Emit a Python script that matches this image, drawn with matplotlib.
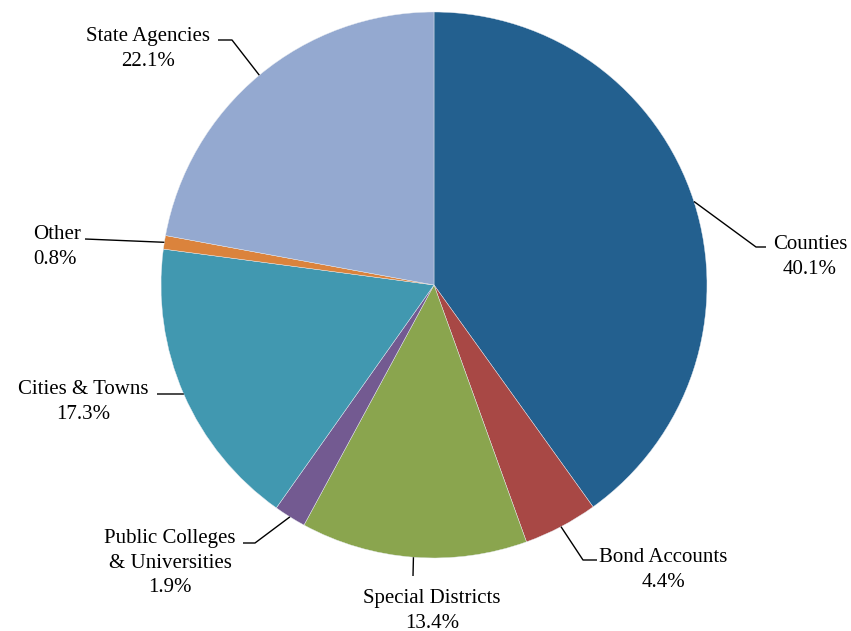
import numpy as np
import matplotlib
matplotlib.use("Agg")
import matplotlib.pyplot as plt

# Share of total by entity type
categories = ["Counties", "Bond Accounts", "Special Districts",
              "Public Colleges\n& Universities", "Cities & Towns",
              "Other", "State Agencies"]
shares = [40.1, 4.4, 13.4, 1.9, 17.3, 0.8, 22.1]
colors = ["#23608F", "#A84845", "#8AA54E", "#735A91",
          "#4198B0", "#DB833C", "#94A9D0"]

W, H = 851, 631
plt.rcParams["font.family"] = ["Liberation Serif", "DejaVu Serif"]

fig = plt.figure(figsize=(W / 100, H / 100), dpi=100)
ax = fig.add_axes([0, 0, 1, 1])

cx, cy, r = 434, H - 285, 273
wedges, _ = ax.pie(shares, colors=colors, startangle=90, counterclock=False,
                   radius=r, center=(cx, cy), frame=True,
                   wedgeprops=dict(edgecolor="#e8ecf2", linewidth=0.3))
ax.set_xlim(0, W)
ax.set_ylim(0, H)
ax.set_aspect("equal")
ax.axis("off")

def fy(py):
    return H - py

# label layout: (elbow point, end point, text position, alignment) in pixel coords
layout = [
    ((756, 247), (766, 247), (810, 257), "center"),
    ((583, 560), (597, 560), (663, 570), "center"),
    ((413, 576), (413, 576), (432, 611), "center"),
    ((255, 543), (243, 543), (170, 563), "center"),
    ((183, 394), (157, 394), (83, 402), "center"),
    ((85, 239), (85, 239), (33, 247), "left"),
    ((232, 40), (218, 40), (148, 49), "center"),
]

for w, name, val, (elbow, end, tpos, ha) in zip(wedges, categories, shares, layout):
    ang = np.deg2rad((w.theta1 + w.theta2) / 2)
    sx, sy = cx + r * np.cos(ang), cy + r * np.sin(ang)
    ax.plot([sx, elbow[0], end[0]], [sy, fy(elbow[1]), fy(end[1])],
            color="black", lw=1.0, solid_capstyle="butt")
    ax.text(tpos[0], fy(tpos[1]), f"{name}\n{val:.1f}%", ha=ha, va="center",
            multialignment=ha, fontsize=15, linespacing=1.38, color="black")

fig.savefig("out.png", dpi=100, facecolor="white")
